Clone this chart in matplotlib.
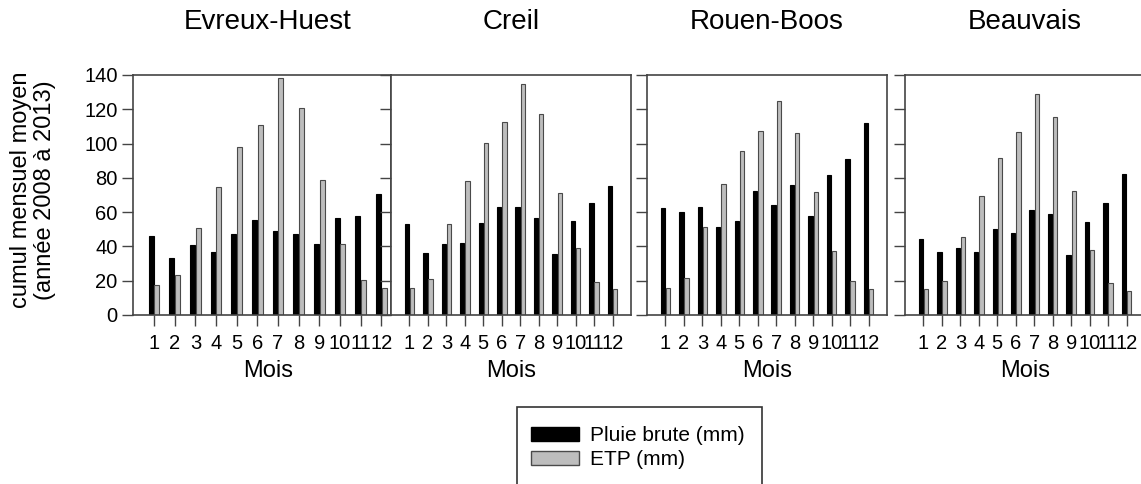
import numpy as np
import matplotlib.pyplot as plt
from matplotlib.patches import Patch, Rectangle

plt.rcParams['font.family'] = ['Liberation Sans', 'DejaVu Sans']

mois = np.arange(1, 13)
stations = ['Evreux-Huest', 'Creil', 'Rouen-Boos', 'Beauvais']

pluie_evreux = [45.8, 33.1, 41.1, 37.0, 47.4, 55.4, 49.0, 47.0, 41.3, 56.8, 57.6, 70.3]
etp_evreux = [17.6, 23.1, 50.7, 74.4, 97.9, 110.8, 138.0, 120.8, 78.5, 41.7, 20.6, 15.5]
pluie_creil = [52.9, 36.0, 41.5, 42.1, 53.5, 62.8, 63.0, 56.4, 35.8, 55.0, 65.4, 75.0]
etp_creil = [15.7, 21.1, 52.9, 77.9, 100.2, 112.8, 134.9, 117.3, 71.1, 38.8, 19.4, 14.9]
pluie_rouen = [62.3, 59.9, 63.2, 51.5, 55.0, 72.1, 64.0, 75.6, 57.8, 81.8, 91.0, 112.0]
etp_rouen = [15.9, 21.3, 51.1, 76.2, 95.6, 107.3, 124.7, 106.3, 71.5, 37.4, 19.8, 15.1]
pluie_beauvais = [44.1, 36.8, 39.2, 37.0, 50.1, 47.6, 61.3, 59.1, 35.2, 54.4, 65.2, 82.2]
etp_beauvais = [15.1, 19.6, 45.6, 69.3, 91.4, 106.7, 129.2, 115.5, 72.6, 38.0, 18.8, 14.1]

pluie = [pluie_evreux, pluie_creil, pluie_rouen, pluie_beauvais]
etp = [etp_evreux, etp_creil, etp_rouen, etp_beauvais]

W, H = 1141, 484
fig = plt.figure(figsize=(W / 100, H / 100), dpi=100)

# left pixel, width pixel, xlim for each panel
panels = [(133, 258, (-0.016, 12.466)),
          (391, 240, (0.0, 13.0)),
          (647, 240, (0.0, 13.0)),
          (905, 240, (0.0, 13.0))]
top, bottom = 75, 315
axcol = '#444444'

for k in range(4):
    left, width, xlim = panels[k]
    ax = fig.add_axes([left / W, 1 - bottom / H, width / W, (bottom - top) / H])
    ax.bar(mois - 0.14, pluie[k], 0.24, color='black', edgecolor='black', lw=0.8)
    ax.bar(mois + 0.14, etp[k], 0.24, color='#bdbdbd', edgecolor='#4a4a4a', lw=0.8)
    ax.set_xlim(xlim)
    ax.set_ylim(0, 140)
    ax.set_xticks(mois)
    ax.set_yticks(range(0, 141, 20))
    ax.tick_params(direction='out', length=8, width=1, color=axcol, labelsize=14.5)
    ax.tick_params(axis='x', pad=6)
    ax.tick_params(axis='y', pad=3)
    if k > 0:
        ax.tick_params(axis='y', labelleft=False)
    for s in ax.spines.values():
        s.set_color(axcol)
        s.set_linewidth(1.2)
    tr = ax.get_xaxis_transform()
    ax.text(6.5, (bottom - 21.7) / (bottom - top), stations[k], transform=tr,
            ha='center', va='center', fontsize=20)
    ax.text(6.5, (bottom - 371) / (bottom - top), 'Mois', transform=tr,
            ha='center', va='center', fontsize=17)

fig.text(33 / W, 1 - 190 / H, 'cumul mensuel moyen\n(année 2008 à 2013)',
         rotation=90, ha='center', va='center', fontsize=17, linespacing=1.1)

# legend box runs past the bottom edge, as in the original
fig.patches.append(Rectangle((517 / W, -10 / H), 245 / W, (H + 10 - 407) / H,
                             transform=fig.transFigure, facecolor='white',
                             edgecolor='#333333', lw=1.2))
handles = [Patch(facecolor='black', edgecolor='black'),
           Patch(facecolor='#bdbdbd', edgecolor='#4a4a4a')]
leg = fig.legend(handles, ['Pluie brute (mm)', 'ETP (mm)'], loc='upper left',
                 bbox_to_anchor=(531 / W, 1 - 426 / H), borderaxespad=0,
                 frameon=False, fontsize=15,
                 handlelength=2.3, handleheight=0.68, handletextpad=0.55,
                 borderpad=0, labelspacing=0.25)

fig.savefig('out.png', dpi=100)
